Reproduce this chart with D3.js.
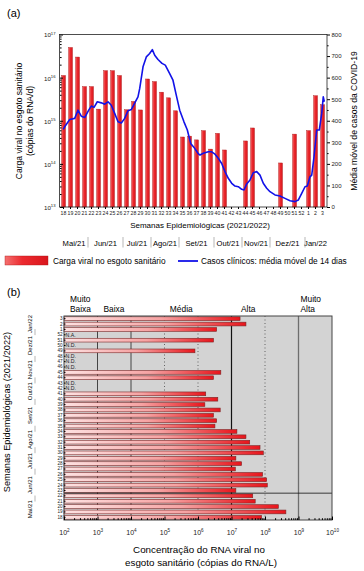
<!DOCTYPE html>
<html lang="pt">
<head>
<meta charset="UTF-8">
<title>Carga viral no esgoto sanitário</title>
<script src="https://cdn.jsdelivr.net/npm/d3@7"></script>
<style>
    body { margin: 0; background: #fff; }
    svg { display: block; font-family: "Liberation Sans", Arial, sans-serif; }
    .tick text { fill: #222; }
</style>
</head>
<body>
<svg id="chart" width="364" height="571"></svg>
<script>
    // epidemiological weeks 2021 (18..52) and 2022 (1..3)
    const weeks = ["18","19","20","21","22","23","24","25","26","27","28","29","30","31","32","33","34","35",
        "36","37","38","39","40","41","42","43","44","45","46","47","48","49","50","51","52","1","2","3"]

    // (a) viral load, copies of RNA per day (null = no result)
    const viralLoad = [1.12e16,5.0e16,3.0e16,6.2e15,6.2e15,1.86e15,1.45e16,1.45e16,1.12e16,1.8e15,2.8e15,1.78e15,
        9.3e15,8.1e15,4.6e15,3.4e15,1.7e15,4.2e14,4.4e14,3.6e14,5.9e14,2.2e14,5.1e14,2.1e14,null,null,
        3.4e14,6.8e14,null,null,null,1.05e14,null,4.9e14,null,5.9e14,3.8e15,2.35e15]

    // (b) RNA concentration, copies per litre
    const concentration = [7.9e7,4.2e8,2.5e8,5.1e7,4.3e7,1.35e7,1.17e8,1.12e8,8.5e7,1.3e7,2.0e7,1.35e7,
        8.9e7,7.1e7,3.5e7,2.7e7,1.45e7,3.2e6,3.6e6,2.9e6,4.6e6,1.6e6,3.9e6,1.7e6,null,null,
        2.9e6,4.8e6,null,null,null,8.1e5,null,2.9e6,null,3.6e6,2.7e7,1.8e7]
    const sampleStatus = ["","","","","","","","","","","","","","","","","","","","","","","","","N.D.","N.D.",
        "","","N.D.","N.D.","N.D.","","N.D.","","N.A.","","",""]

    // clinical cases, 14-day moving average (position in weeks from week 18)
    const casePos = [-0.05,0.17,0.89,1.6,2.07,2.54,3.03,3.6,3.97,4.36,4.83,5.4,5.89,6.36,6.83,7.31,7.79,8.26,
        8.74,9.21,9.69,10.26,10.64,10.89,11.36,11.83,12.31,12.69,13.03,13.5,14.07,14.54,15.17,15.64,16.11,16.6,
        17.21,17.69,18.17,18.74,19.21,19.5,19.97,20.69,21.17,21.64,22.11,22.6,23.07,23.54,24.03,24.5,24.97,
        25.46,25.79,26.17,26.64,27.11,27.6,28.07,28.54,29.03,29.5,30.21,30.93,31.64,32.36,33.07,33.54,34.03,
        34.5,34.83,35.21,35.46,35.79,36.17,36.54,36.89,37.11,37.26]
    const caseAvg = [360,372,406,411,449,421,415,449,468,462,488,483,477,488,472,434,395,390,411,446,452,488,
        511,550,650,696,712,730,704,684,666,658,619,588,519,449,395,357,295,272,249,241,249,256,256,245,226,
        202,164,133,110,97,94,82,79,107,125,159,164,148,110,87,71,56,51,40,29,25,32,63,94,97,140,148,233,357,
        357,434,511,488]

    const months = ["Mai/21","Jun/21","Jul/21","Ago/21","Set/21","Out/21","Nov/21","Dez/21","Jan/22"]
    const monthWeeks = [4,5,4,4,5,4,4,5,3]

    const loadTicks = [1e13,1e14,1e15,1e16,1e17]
    const caseTicks = [0,100,200,300,400,500,600,700,800]
    const concTicks = [1e2,1e3,1e4,1e5,1e6,1e7,1e8,1e9,1e10]

    const levels = [["Muito","Baixa"],["Baixa"],["Média"],["Alta"],["Muito","Alta"]]
    const levelFrom = [1e2,1e3,1e4,1e7,1e9]

    const svg = d3.select("#chart")
    const defs = svg.append("defs")

    let gradA = defs.append("linearGradient").attr("id","redA")
    gradA.append("stop").attr("offset","0%").attr("stop-color","#f4706f")
    gradA.append("stop").attr("offset","40%").attr("stop-color","#ec2a2f")
    gradA.append("stop").attr("offset","100%").attr("stop-color","#d9161c")

    let gradB = defs.append("linearGradient").attr("id","redB")
    gradB.append("stop").attr("offset","0%").attr("stop-color","#fde2e2")
    gradB.append("stop").attr("offset","55%").attr("stop-color","#f6a3a3")
    gradB.append("stop").attr("offset","100%").attr("stop-color","#e8141b")

    // ---------------- panel (a)
    let plotA = {left: 60, right: 326, top: 34.5, bottom: 207}
    let xA = d3.scaleBand().domain(weeks).range([plotA.left, plotA.right]).paddingInner(0.43).paddingOuter(0.215)
    let xCase = d3.scaleLinear().domain([-0.5, weeks.length - 0.5]).range([plotA.left, plotA.right])
    let yLoad = d3.scaleLog().domain([1e13, 1e17]).range([plotA.bottom, plotA.top])
    let yCase = d3.scaleLinear().domain([0, 800]).range([plotA.bottom, plotA.top])

    svg.append("text").attr("x",7).attr("y",17).attr("font-size",11).text("(a)")

    svg.append("g").selectAll("rect")
        .data(weeks.map((w,i)=>({w: w, v: viralLoad[i]})).filter(d=>d.v !== null))
        .enter().append("rect")
        .attr("x", d=>xA(d.w))
        .attr("width", xA.bandwidth())
        .attr("y", d=>yLoad(d.v))
        .attr("height", d=>plotA.bottom - yLoad(d.v))
        .attr("fill","url(#redA)")
        .attr("stroke","#a81818")
        .attr("stroke-width",0.4)

    let caseLine = d3.line().x((d,i)=>xCase(casePos[i])).y(d=>yCase(d))
    svg.append("path").attr("d", caseLine(caseAvg))
        .attr("fill","none").attr("stroke","#1212e8").attr("stroke-width",1.6)
        .attr("stroke-linejoin","round")

    // left log axis
    let minorLoad = []
    loadTicks.slice(0,-1).forEach(t => [2,3,4,5,6,7,8,9].forEach(k => minorLoad.push(k*t)))
    let axL = svg.append("g").attr("transform",`translate(${plotA.left},0)`)
        .call(d3.axisLeft(yLoad).tickValues(loadTicks).tickSize(-3).tickPadding(4.5).tickFormat(()=>"10"))
    axL.select(".domain").remove()
    axL.selectAll(".tick text").attr("font-size",6.2).attr("dy","0.4em")
        .append("tspan").attr("dy","-0.6em").attr("font-size",4.2).text(d=>Math.round(Math.log10(d)))
    let axLm = svg.append("g").attr("transform",`translate(${plotA.left},0)`)
        .call(d3.axisLeft(yLoad).tickValues(minorLoad).tickSize(-1.6).tickFormat(""))
    axLm.select(".domain").remove()

    // right axis
    let axR = svg.append("g").attr("transform",`translate(${plotA.right+1},0)`)
        .call(d3.axisRight(yCase).tickValues(caseTicks).tickSize(3).tickPadding(1.5))
    axR.select(".domain").remove()
    axR.selectAll(".tick text").attr("font-size",6)
    let axRm = svg.append("g").attr("transform",`translate(${plotA.right+1},0)`)
        .call(d3.axisRight(yCase).tickValues(caseTicks.slice(0,-1).map(d=>d+50)).tickSize(1.6).tickFormat(""))
    axRm.select(".domain").remove()

    // week axis
    let axB = svg.append("g").attr("transform",`translate(0,${plotA.bottom})`)
        .call(d3.axisBottom(xA).tickSize(2).tickPadding(2.5))
    axB.select(".domain").remove()
    axB.selectAll(".tick text").attr("font-size",5.2)

    svg.append("rect").attr("x",plotA.left-0.5).attr("y",plotA.top)
        .attr("width",plotA.right-plotA.left+1.5).attr("height",plotA.bottom-plotA.top)
        .attr("fill","none").attr("stroke","#222").attr("stroke-width",0.8)

    svg.append("text").attr("x",200).attr("y",228).attr("text-anchor","middle").attr("font-size",8)
        .text("Semanas Epidemiológicas (2021/2022)")

    let titleL = svg.append("text").attr("transform","translate(22,121) rotate(-90)")
        .attr("text-anchor","middle").attr("font-size",8.6)
    titleL.append("tspan").attr("x",0).attr("y",0).text("Carga viral no esgoto sanitário")
    titleL.append("tspan").attr("x",0).attr("y",11.2).text("(cópias do RNA/d)")

    svg.append("text").attr("transform","translate(357,121) rotate(-90)")
        .attr("text-anchor","middle").attr("font-size",8.6).text("Média móvel de casos da COVID-19")

    // months under the week axis
    let start = 0
    months.forEach((m,i)=>{
        let x0 = xCase(start - 0.5), x1 = xCase(start + monthWeeks[i] - 0.5)
        svg.append("text").attr("x",(x0+x1)/2).attr("y",245.5).attr("text-anchor","middle")
            .attr("font-size",7.6).text(m)
        if(i > 0){
            svg.append("line").attr("x1",x0).attr("x2",x0).attr("y1",237).attr("y2",247.5)
                .attr("stroke","#999").attr("stroke-width",0.7)
        }
        start += monthWeeks[i]
    })

    // legend
    svg.append("rect").attr("x",5).attr("y",256).attr("width",43).attr("height",9)
        .attr("fill","url(#redA)").attr("stroke","#a81818").attr("stroke-width",0.4)
    svg.append("text").attr("x",53).attr("y",264).attr("font-size",8.3).text("Carga viral no esgoto sanitário")
    svg.append("line").attr("x1",178).attr("x2",198).attr("y1",261).attr("y2",261)
        .attr("stroke","#1212e8").attr("stroke-width",1.8)
    svg.append("text").attr("x",201).attr("y",264).attr("font-size",8.3).text("Casos clínicos: média móvel de 14 dias")

    // ---------------- panel (b)
    let plotB = {left: 64, right: 332, top: 316, bottom: 520}
    let xConc = d3.scaleLog().domain([1e2, 1e10]).range([plotB.left, plotB.right])
    let rows = weeks.slice().reverse()
    let yRow = d3.scaleBand().domain(rows).range([plotB.top, plotB.bottom]).paddingInner(0.3).paddingOuter(0.15)

    svg.append("text").attr("x",7).attr("y",296).attr("font-size",11).text("(b)")

    svg.append("rect").attr("x",plotB.left).attr("y",plotB.top)
        .attr("width",plotB.right-plotB.left).attr("height",plotB.bottom-plotB.top)
        .attr("fill","#d3d3d3")

    let solidLines = [{v:1e3,c:"#444",w:1},{v:1e4,c:"#444",w:1},{v:1e7,c:"#111",w:1.2},{v:1e9,c:"#6e6e6e",w:1.3}]
    svg.append("g").selectAll("line").data(solidLines).enter().append("line")
        .attr("x1",d=>xConc(d.v)).attr("x2",d=>xConc(d.v))
        .attr("y1",plotB.top).attr("y2",plotB.bottom)
        .attr("stroke",d=>d.c).attr("stroke-width",d=>d.w)
    svg.append("g").selectAll("line").data([1e5,1e6,1e8]).enter().append("line")
        .attr("x1",d=>xConc(d)).attr("x2",d=>xConc(d))
        .attr("y1",plotB.top).attr("y2",plotB.bottom)
        .attr("stroke","#555").attr("stroke-width",0.9).attr("stroke-dasharray","1,2.5")

    let rowData = weeks.map((w,i)=>({w: w, v: concentration[i], s: sampleStatus[i]}))
    svg.append("g").selectAll("rect")
        .data(rowData.filter(d=>d.v !== null))
        .enter().append("rect")
        .attr("x", xConc(1e2))
        .attr("width", d=>xConc(d.v) - xConc(1e2))
        .attr("y", d=>yRow(d.w))
        .attr("height", yRow.bandwidth())
        .attr("fill","url(#redB)")
        .attr("stroke","#7a2626")
        .attr("stroke-width",0.6)

    svg.append("g").selectAll("text")
        .data(rowData.filter(d=>d.s !== ""))
        .enter().append("text")
        .attr("x", xConc(1e2) + 1.5)
        .attr("y", d=>yRow(d.w) + yRow.bandwidth()/2 + 1.8)
        .attr("font-size",5.2).attr("fill","#222")
        .text(d=>d.s)

    let split = (yRow("22") + yRow("23") + yRow.bandwidth())/2
    svg.append("line").attr("x1",plotB.left).attr("x2",plotB.right).attr("y1",split).attr("y2",split)
        .attr("stroke","#111").attr("stroke-width",0.8)

    svg.append("rect").attr("x",plotB.left).attr("y",plotB.top)
        .attr("width",plotB.right-plotB.left).attr("height",plotB.bottom-plotB.top)
        .attr("fill","none").attr("stroke","#444").attr("stroke-width",1)

    // week labels
    let axW = svg.append("g").attr("transform",`translate(${plotB.left},0)`)
        .call(d3.axisLeft(yRow).tickSize(-1.5).tickPadding(1.5))
    axW.select(".domain").remove()
    axW.selectAll(".tick text").attr("font-size",4.6)

    // concentration axis
    let minorConc = []
    concTicks.slice(0,-1).forEach(t => [2,3,4,5,6,7,8,9].forEach(k => minorConc.push(k*t)))
    let axC = svg.append("g").attr("transform",`translate(0,${plotB.bottom})`)
        .call(d3.axisBottom(xConc).tickValues(concTicks).tickSize(-3.5).tickFormat(()=>"10"))
    axC.select(".domain").remove()
    axC.selectAll(".tick text").attr("font-size",7).attr("y",15).attr("dy",0)
        .append("tspan").attr("dy","-0.6em").attr("font-size",4.6).text(d=>Math.round(Math.log10(d)))
    let axCm = svg.append("g").attr("transform",`translate(0,${plotB.bottom})`)
        .call(d3.axisBottom(xConc).tickValues(minorConc).tickSize(-1.8).tickFormat(""))
    axCm.select(".domain").remove()

    let titleB = svg.append("text").attr("text-anchor","middle").attr("font-size",9.8)
    titleB.append("tspan").attr("x",199).attr("y",553).text("Concentração do RNA viral no")
    titleB.append("tspan").attr("x",201).attr("y",566).text("esgoto sanitário (cópias do RNA/L)")

    svg.append("text").attr("transform","translate(10,412) rotate(-90)")
        .attr("text-anchor","middle").attr("font-size",9.2).text("Semanas Epidemiológicas (2021/2022)")

    // months beside the rows
    start = 0
    months.forEach((m,i)=>{
        let first = weeks[start], last = weeks[start + monthWeeks[i] - 1]
        let yTop = yRow(last), yBot = yRow(first) + yRow.bandwidth()
        svg.append("text").attr("transform",`translate(32,${(yTop+yBot)/2}) rotate(-90)`)
            .attr("text-anchor","middle").attr("font-size",6).text(m)
        if(i > 0){
            let yb = yRow(first) + yRow.bandwidth() + yRow.step()*0.15
            svg.append("line").attr("x1",35).attr("x2",35).attr("y1",yb-3).attr("y2",yb+3)
                .attr("stroke","#999").attr("stroke-width",0.7)
        }
        start += monthWeeks[i]
    })

    // level labels
    levels.forEach((lv,i)=>{
        let t = svg.append("text").attr("font-size",8.4)
        let x
        if(i === 2) { x = xConc(10**5.5); t.attr("text-anchor","middle") }
        else if(i === 3) { x = xConc(10**7.5); t.attr("text-anchor","middle") }
        else { x = xConc(levelFrom[i]) + (i === 4 ? 2 : 6) }
        lv.forEach((s,j)=>{
            t.append("tspan").attr("x",x).attr("y",311.5 - (lv.length-1-j)*10).text(s)
        })
    })
</script>
</body>
</html>
